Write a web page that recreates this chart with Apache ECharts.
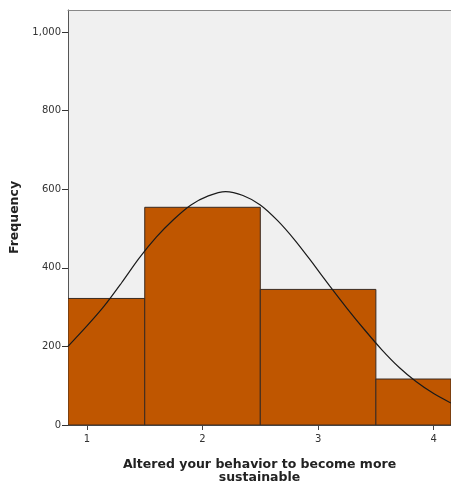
<!DOCTYPE html>
<html><head><meta charset="utf-8">
<script src="https://cdn.jsdelivr.net/npm/echarts@6/dist/echarts.min.js"></script>
<style>html,body{margin:0;padding:0;background:#fff}#c{width:451px;height:487px}</style>
</head><body><div id="c"></div>
<script>
// Histogram bins (lower edge, upper edge, frequency)
const binStart = [0.5, 1.5, 2.5, 3.5];
const binEnd   = [1.5, 2.5, 3.5, 4.5];
const frequency = [322, 554, 345, 117];
// Normal curve
const curveX = [0.836, 1.0, 1.15, 1.3, 1.45, 1.6, 1.75, 1.9, 2.05, 2.2, 2.35, 2.5, 2.65, 2.8, 2.95, 3.1, 3.25, 3.4, 3.55, 3.7, 3.85, 4.0, 4.149];
const curveY = [200, 252, 303, 362, 424, 478, 523, 560, 583, 594, 584, 560, 520, 470, 413, 354, 297, 243, 192, 147, 110, 80, 56];
const xTicks = [1, 2, 3, 4];
const yTicks = [0, 200, 400, 600, 800, 1000];

const chart = echarts.init(document.getElementById('c'), null, {renderer: 'canvas'});
const font = 'DejaVu Sans';
chart.setOption({
  animation: false,
  grid: {left: 68, right: 0, top: 10, bottom: 62, show: true, backgroundColor: '#f0f0f0', borderWidth: 0,
         outerBoundsMode: 'none', containLabel: false},
  xAxis: [{
    type: 'value', min: 0.836, max: 4.15,
    name: 'Altered your behavior to become more\nsustainable',
    nameLocation: 'middle', nameGap: 33,
    nameTextStyle: {fontFamily: font, fontWeight: 'bold', fontSize: 12.5, color: '#222', lineHeight: 13},
    splitLine: {show: false},
    axisLine: {lineStyle: {color: '#444', width: 1}},
    axisTick: {show: true, inside: false, length: 5, customValues: xTicks, lineStyle: {color: '#444'}},
    axisLabel: {customValues: xTicks, fontFamily: font, fontSize: 10, color: '#333', margin: 9}
  }, {
    type: 'value', position: 'top', min: 0.836, max: 4.15,
    splitLine: {show: false}, axisTick: {show: false}, axisLabel: {show: false},
    axisLine: {show: true, lineStyle: {color: '#888', width: 1}}
  }],
  yAxis: {
    type: 'value', min: 0, max: 1056,
    name: 'Frequency', nameLocation: 'middle', nameGap: 47, nameRotate: 90,
    nameTextStyle: {fontFamily: font, fontWeight: 'bold', fontSize: 12.5, color: '#222'},
    splitLine: {show: false},
    axisLine: {show: true, lineStyle: {color: '#555', width: 1}},
    axisTick: {show: true, inside: false, length: 6, customValues: yTicks, lineStyle: {color: '#333'}},
    axisLabel: {customValues: yTicks, fontFamily: font, fontSize: 10, color: '#333', margin: 7,
      formatter: v => v.toLocaleString('en-US')}
  },
  series: [
    {
      type: 'custom',
      clip: true,
      data: frequency.map((f, i) => [binStart[i], binEnd[i], f]),
      encode: {x: [0, 1], y: 2},
      renderItem: function (params, api) {
        const p0 = api.coord([api.value(0), api.value(2)]);
        const p1 = api.coord([api.value(1), 0]);
        const rect = echarts.graphic.clipRectByRect(
          {x: p0[0], y: p0[1], width: p1[0] - p0[0], height: p1[1] - p0[1]},
          {x: params.coordSys.x, y: params.coordSys.y, width: params.coordSys.width, height: params.coordSys.height});
        if (!rect) return;
        return {type: 'rect', shape: rect, style: {fill: '#bf5600', stroke: '#3a2a20', lineWidth: 1}};
      },
      z: 2
    },
    {
      type: 'line', smooth: 0.3, showSymbol: false, symbol: 'none',
      data: curveX.map((x, i) => [x, curveY[i]]),
      lineStyle: {color: '#1a1a1a', width: 1.2},
      z: 3
    }
  ]
});
</script></body></html>
